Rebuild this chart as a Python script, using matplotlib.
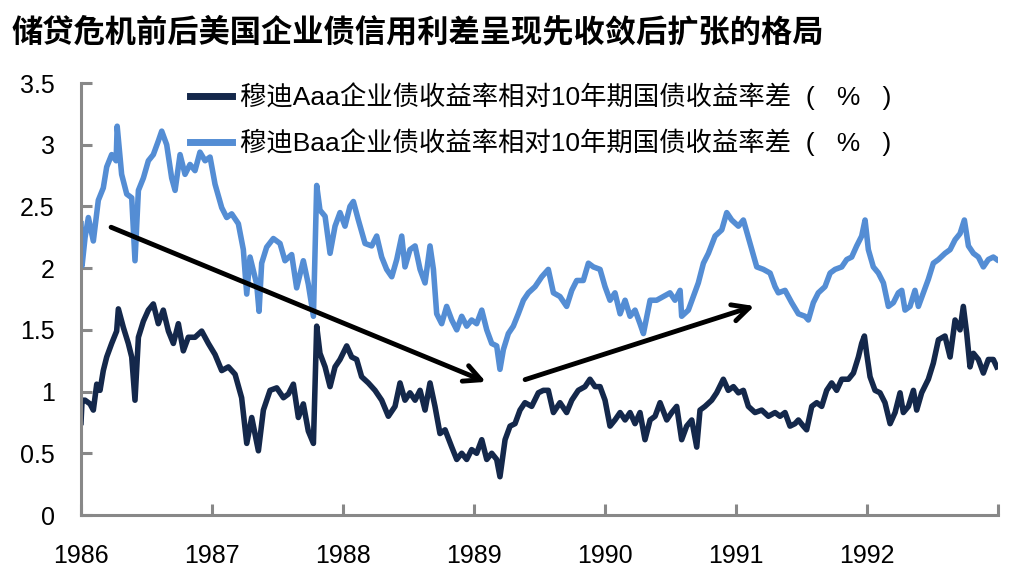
import numpy as np
import matplotlib.pyplot as plt

plt.rcParams['font.family'] = ['Liberation Sans', 'Noto Sans CJK SC', 'DejaVu Sans']

# Moody's Aaa spread vs 10y treasury (%), decimal years
aaa_years = [1986.000, 1986.008, 1986.031, 1986.069, 1986.094, 1986.120, 1986.145, 1986.170, 1986.196,
             1986.234, 1986.272, 1986.285, 1986.323, 1986.361, 1986.387, 1986.412, 1986.438, 1986.476,
             1986.514, 1986.552, 1986.590, 1986.628, 1986.667, 1986.705, 1986.743, 1986.781, 1986.819,
             1986.870, 1986.921, 1986.972, 1987.023, 1987.074, 1987.125, 1987.176, 1987.226, 1987.265,
             1987.303, 1987.354, 1987.392, 1987.443, 1987.494, 1987.545, 1987.583, 1987.621, 1987.659,
             1987.697, 1987.735, 1987.774, 1987.799, 1987.824, 1987.863, 1987.901, 1987.939, 1987.977,
             1988.028, 1988.066, 1988.104, 1988.142, 1988.193, 1988.244, 1988.295, 1988.346, 1988.397,
             1988.435, 1988.473, 1988.511, 1988.550, 1988.588, 1988.626, 1988.664, 1988.702, 1988.740,
             1988.779, 1988.830, 1988.868, 1988.906, 1988.944, 1988.982, 1989.020, 1989.059, 1989.097,
             1989.135, 1989.173, 1989.198, 1989.237, 1989.275, 1989.313, 1989.351, 1989.389, 1989.440,
             1989.491, 1989.529, 1989.567, 1989.606, 1989.656, 1989.707, 1989.746, 1989.796, 1989.847,
             1989.885, 1989.924, 1989.962, 1990.000, 1990.038, 1990.076, 1990.115, 1990.153, 1990.191,
             1990.229, 1990.267, 1990.305, 1990.344, 1990.382, 1990.420, 1990.471, 1990.509, 1990.547,
             1990.585, 1990.623, 1990.662, 1990.700, 1990.725, 1990.763, 1990.814, 1990.852, 1990.903,
             1990.941, 1990.980, 1991.018, 1991.056, 1991.094, 1991.145, 1991.196, 1991.247, 1991.298,
             1991.336, 1991.374, 1991.412, 1991.450, 1991.476, 1991.514, 1991.539, 1991.578, 1991.616,
             1991.654, 1991.692, 1991.730, 1991.768, 1991.807, 1991.858, 1991.896, 1991.934, 1991.959,
             1991.980, 1991.997, 1992.023, 1992.061, 1992.099, 1992.137, 1992.176, 1992.214, 1992.252,
             1992.277, 1992.316, 1992.354, 1992.379, 1992.417, 1992.468, 1992.506, 1992.545, 1992.595,
             1992.634, 1992.672, 1992.710, 1992.735, 1992.761, 1992.786, 1992.812, 1992.850, 1992.888,
             1992.926, 1992.964, 1992.990]
aaa_vals = [0.75, 0.93, 0.93, 0.90, 0.85, 1.06, 1.01, 1.17, 1.28,
            1.39, 1.49, 1.67, 1.52, 1.39, 1.28, 0.93, 1.44, 1.57,
            1.66, 1.71, 1.55, 1.66, 1.49, 1.39, 1.55, 1.33, 1.44,
            1.44, 1.49, 1.39, 1.30, 1.17, 1.20, 1.14, 0.95, 0.58,
            0.79, 0.52, 0.85, 1.01, 1.03, 0.95, 0.98, 1.06, 0.79,
            0.90, 0.68, 0.58, 1.53, 1.31, 1.20, 1.04, 1.20, 1.26,
            1.37, 1.28, 1.26, 1.12, 1.07, 1.01, 0.93, 0.80, 0.88,
            1.07, 0.93, 0.99, 0.93, 1.01, 0.85, 1.07, 0.88, 0.66,
            0.69, 0.55, 0.45, 0.50, 0.45, 0.53, 0.50, 0.61, 0.45,
            0.50, 0.45, 0.31, 0.61, 0.72, 0.74, 0.85, 0.91, 0.88,
            0.99, 1.01, 1.01, 0.83, 0.91, 0.83, 0.93, 1.01, 1.04,
            1.10, 1.04, 1.04, 0.93, 0.72, 0.77, 0.83, 0.77, 0.83,
            0.74, 0.83, 0.61, 0.77, 0.80, 0.91, 0.77, 0.83, 0.88,
            0.61, 0.72, 0.77, 0.55, 0.85, 0.88, 0.93, 0.99, 1.10,
            1.01, 1.04, 0.99, 1.01, 0.88, 0.83, 0.85, 0.80, 0.83,
            0.80, 0.83, 0.72, 0.74, 0.77, 0.72, 0.69, 0.88, 0.91,
            0.88, 1.01, 1.07, 1.01, 1.10, 1.10, 1.15, 1.28, 1.39,
            1.45, 1.31, 1.12, 1.01, 0.99, 0.91, 0.74, 0.83, 0.99,
            0.83, 0.88, 1.01, 0.85, 0.99, 1.10, 1.23, 1.42, 1.45,
            1.28, 1.58, 1.50, 1.69, 1.47, 1.20, 1.31, 1.26, 1.15,
            1.26, 1.26, 1.20]

# Moody's Baa spread vs 10y treasury (%)
baa_years = [1986.000, 1986.008, 1986.031, 1986.056, 1986.094, 1986.132, 1986.170, 1986.196, 1986.234,
             1986.268, 1986.276, 1986.310, 1986.349, 1986.387, 1986.412, 1986.438, 1986.476, 1986.514,
             1986.552, 1986.590, 1986.616, 1986.654, 1986.692, 1986.718, 1986.756, 1986.794, 1986.832,
             1986.870, 1986.908, 1986.947, 1986.985, 1987.023, 1987.074, 1987.112, 1987.150, 1987.201,
             1987.239, 1987.265, 1987.290, 1987.341, 1987.359, 1987.379, 1987.417, 1987.468, 1987.519,
             1987.557, 1987.608, 1987.646, 1987.697, 1987.735, 1987.774, 1987.799, 1987.824, 1987.863,
             1987.901, 1987.939, 1987.977, 1988.015, 1988.053, 1988.079, 1988.117, 1988.168, 1988.219,
             1988.257, 1988.295, 1988.333, 1988.372, 1988.410, 1988.448, 1988.473, 1988.511, 1988.550,
             1988.588, 1988.626, 1988.664, 1988.690, 1988.715, 1988.753, 1988.791, 1988.830, 1988.868,
             1988.906, 1988.944, 1988.982, 1989.020, 1989.059, 1989.097, 1989.135, 1989.173, 1989.198,
             1989.224, 1989.262, 1989.300, 1989.338, 1989.377, 1989.415, 1989.466, 1989.517, 1989.567,
             1989.606, 1989.656, 1989.707, 1989.746, 1989.784, 1989.834, 1989.873, 1989.911, 1989.962,
             1990.000, 1990.038, 1990.076, 1990.115, 1990.153, 1990.191, 1990.229, 1990.267, 1990.293,
             1990.344, 1990.394, 1990.445, 1990.496, 1990.534, 1990.573, 1990.585, 1990.636, 1990.674,
             1990.712, 1990.751, 1990.789, 1990.840, 1990.891, 1990.929, 1990.967, 1991.018, 1991.056,
             1991.107, 1991.158, 1991.209, 1991.260, 1991.298, 1991.323, 1991.374, 1991.425, 1991.476,
             1991.527, 1991.552, 1991.590, 1991.628, 1991.679, 1991.718, 1991.756, 1991.807, 1991.845,
             1991.883, 1991.921, 1991.959, 1991.985, 1992.010, 1992.048, 1992.087, 1992.125, 1992.163,
             1992.201, 1992.239, 1992.265, 1992.290, 1992.328, 1992.366, 1992.392, 1992.430, 1992.468,
             1992.506, 1992.545, 1992.595, 1992.634, 1992.672, 1992.710, 1992.743, 1992.774, 1992.812,
             1992.850, 1992.888, 1992.926, 1992.964, 1992.990]
baa_vals = [2.36, 2.02, 2.25, 2.41, 2.22, 2.55, 2.65, 2.82, 2.92,
            2.87, 3.15, 2.76, 2.60, 2.57, 2.06, 2.63, 2.73, 2.87,
            2.92, 3.03, 3.11, 3.00, 2.73, 2.63, 2.92, 2.76, 2.84,
            2.79, 2.94, 2.87, 2.90, 2.68, 2.49, 2.41, 2.44, 2.36,
            2.15, 1.79, 2.09, 1.87, 1.65, 2.04, 2.17, 2.24, 2.20,
            2.06, 2.11, 1.84, 2.06, 1.87, 1.61, 2.67, 2.47, 2.42,
            2.12, 2.34, 2.45, 2.34, 2.50, 2.54, 2.39, 2.20, 2.18,
            2.26, 2.09, 1.99, 1.93, 2.07, 2.26, 2.01, 2.15, 2.18,
            1.99, 1.88, 2.18, 1.99, 1.63, 1.55, 1.69, 1.58, 1.50,
            1.61, 1.53, 1.58, 1.55, 1.66, 1.50, 1.39, 1.37, 1.18,
            1.34, 1.47, 1.53, 1.63, 1.74, 1.80, 1.85, 1.93, 1.99,
            1.80, 1.77, 1.69, 1.82, 1.90, 1.90, 2.04, 2.01, 1.99,
            1.85, 1.74, 1.80, 1.63, 1.74, 1.61, 1.66, 1.55, 1.47,
            1.74, 1.74, 1.77, 1.80, 1.74, 1.82, 1.61, 1.66, 1.77,
            1.88, 2.04, 2.12, 2.26, 2.31, 2.45, 2.39, 2.34, 2.39,
            2.20, 2.01, 1.99, 1.96, 1.85, 1.80, 1.82, 1.72, 1.63,
            1.61, 1.58, 1.72, 1.80, 1.85, 1.96, 1.99, 2.01, 2.07,
            2.09, 2.18, 2.26, 2.39, 2.15, 2.01, 1.96, 1.88, 1.69,
            1.72, 1.80, 1.82, 1.66, 1.69, 1.82, 1.69, 1.80, 1.91,
            2.04, 2.07, 2.12, 2.15, 2.23, 2.28, 2.39, 2.18, 2.12,
            2.09, 2.01, 2.07, 2.09, 2.07]

# arrows: (start year, start value) -> (end year, end value)
arrow_down = [(1986.21, 2.34), (1989.11, 1.07)]
arrow_up = [(1989.37, 1.09), (1991.16, 1.70)]

title = '储贷危机前后美国企业债信用利差呈现先收敛后扩张的格局'
label_aaa = '穆迪Aaa企业债收益率相对10年期国债收益率差  (   %   )'
label_baa = '穆迪Baa企业债收益率相对10年期国债收益率差  (   %   )'
year_ticks = [1986, 1987, 1988, 1989, 1990, 1991, 1992, 1993]
year_labels = ['1986', '1987', '1988', '1989', '1990', '1991', '1992', '']

fig = plt.figure(figsize=(10.23, 5.76), dpi=100)
ax = fig.add_axes([0.0792, 0.1059, 0.8964, 0.75])

ax.plot(aaa_years, aaa_vals, color='#14284B', lw=4, label=label_aaa, solid_joinstyle='round')
ax.plot(baa_years, baa_vals, color='#548DD4', lw=4, label=label_baa, solid_joinstyle='round')

for (x0, y0), (x1, y1) in [arrow_down, arrow_up]:
    ax.annotate('', xy=(x1, y1), xytext=(x0, y0),
                arrowprops=dict(arrowstyle='->,head_length=1.2,head_width=0.6', color='black', lw=3.5))

ax.set_xlim(1986, 1993)
ax.set_ylim(0, 3.5)
ax.set_yticks([0, 0.5, 1, 1.5, 2, 2.5, 3, 3.5])
ax.set_yticklabels(['0', '0.5', '1', '1.5', '2', '2.5', '3', '3.5'])
ax.set_xticks(year_ticks)
ax.set_xticklabels(year_labels)

for s in ['top', 'right']:
    ax.spines[s].set_visible(False)
for s in ['left', 'bottom']:
    ax.spines[s].set_color('#888888')
    ax.spines[s].set_linewidth(2.2)
ax.tick_params(axis='both', direction='in', length=8, width=2.2, color='#888888', labelsize=18)
ax.tick_params(axis='y', pad=19)
ax.tick_params(axis='x', pad=21)

leg = ax.legend(loc='upper left', bbox_to_anchor=(190 / 1023, 1 - 82 / 576), bbox_transform=fig.transFigure,
                frameon=False, fontsize=19, handlelength=1.6, handletextpad=0.3, labelspacing=0.7,
                borderpad=0, borderaxespad=0)
for h in leg.get_lines():
    h.set_linewidth(5)

fig.text(12 / 1023, 1 - 32 / 576, title, fontsize=22.5, va='center', ha='left', fontweight='bold',
         family=['Noto Sans CJK SC', 'DejaVu Sans'])

fig.savefig('out.png', dpi=100)
